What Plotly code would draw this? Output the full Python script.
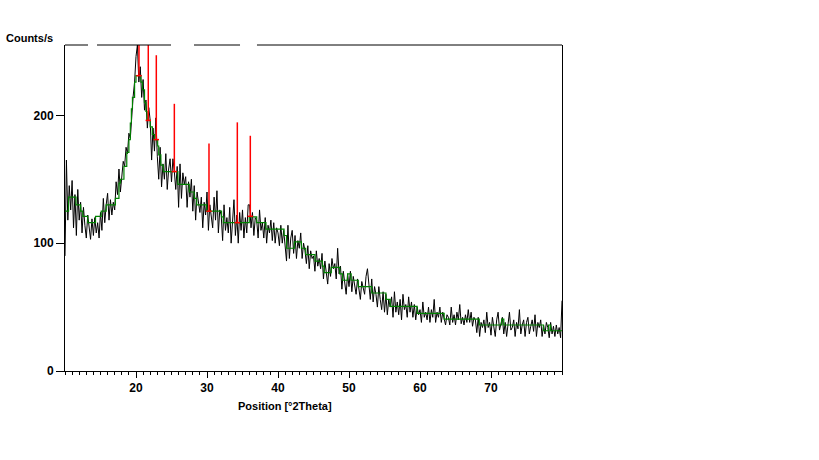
import numpy as np
import plotly.graph_objects as go

# ---- data -------------------------------------------------------------
scan_start = 10.0      # deg 2Theta
scan_step = 0.2        # deg 2Theta
counts = [
    90, 165, 118, 145, 126,
    149, 112, 138, 106, 142,
    118, 132, 108, 128, 114,
    104, 122, 110, 103, 119,
    106, 120, 108, 116, 104,
    124, 110, 135, 116, 130,
    139, 118, 134, 122, 132,
    126, 148, 138, 158, 140,
    152, 164, 160, 175, 170,
    186, 182, 204, 215, 226,
    246, 255, 226, 238, 214,
    228, 204, 212, 190, 206,
    196, 165, 190, 172, 198,
    168, 150, 175, 144, 162,
    150, 170, 142, 158, 166,
    148, 166, 156, 142, 160,
    128, 162, 135, 155, 146,
    152, 128, 148, 136, 150,
    125, 145, 118, 140, 130,
    124, 136, 112, 132, 122,
    140, 110, 130, 118, 112,
    136, 118, 141, 108, 126,
    122, 102, 130, 110, 120,
    108, 128, 100, 120, 134,
    106, 122, 100, 124, 110,
    126, 104, 120, 108, 130,
    130, 112, 124, 106, 120,
    118, 104, 126, 110, 116,
    104, 120, 100, 114, 108,
    118, 102, 116, 100, 112,
    108, 98, 114, 100, 110,
    96, 86, 114, 88, 104,
    110, 92, 106, 88, 102,
    96, 108, 88, 100, 94,
    84, 98, 80, 94, 88,
    90, 78, 94, 82, 88,
    80, 92, 72, 86, 78,
    68, 84, 74, 88, 80,
    84, 72, 96, 76, 82,
    64, 78, 70, 60, 76,
    66, 78, 62, 74, 68,
    60, 72, 64, 56, 70,
    66, 60, 74, 80, 68,
    56, 72, 54, 66, 60,
    50, 66, 56, 48, 62,
    46, 60, 44, 56, 50,
    58, 42, 62, 46, 54,
    44, 56, 40, 60, 48,
    52, 42, 58, 46, 54,
    42, 52, 40, 50, 44,
    48, 38, 54, 42, 46,
    40, 50, 38, 48, 42,
    56, 38, 46, 42, 50,
    38, 46, 40, 36, 44,
    42, 36, 50, 38, 44,
    36, 46, 40, 52, 37,
    42, 36, 44, 38, 48,
    38, 46, 35, 42, 40,
    30, 42, 27, 38, 34,
    40, 30, 46, 34, 38,
    28, 42, 34, 27, 40,
    46, 32, 38, 42, 29,
    38, 27, 36, 46, 32,
    34, 40, 27, 38, 33,
    48, 29, 36, 40, 27,
    38, 42, 29, 35, 40,
    31, 44, 27, 38, 34,
    40, 27, 36, 29, 38,
    34, 26, 38, 29, 35,
    27, 36, 29, 34, 26,
    55,
]

bg_pos = [10.0, 10.5, 11.55, 12.2, 12.5, 13.2, 14.3, 15.1, 15.8, 17.1, 17.6,
          17.8, 18.3, 18.7, 19.0, 19.2, 19.35, 19.5, 19.8, 20.0, 20.7, 20.9,
          21.2, 21.4, 21.55, 22.0, 22.3, 22.6, 23.05, 23.2, 23.5, 23.85, 25.9,
          27.5, 28.2, 28.55, 29.95, 32.05, 32.3, 35.95, 37.0, 38.3, 40.85,
          41.2, 42.3, 43.3, 43.9, 45.2, 46.25, 46.5, 47.5, 48.7, 49.1, 49.8,
          50.3, 51.3, 53.2, 55.2, 55.8, 59.6, 63.4, 68.35, 71.5, 71.8, 77.4,
          78.1, 78.4, 80.0]
bg_val = [125, 136, 130, 125, 121, 116, 121, 125, 130, 135, 147,
          150, 160, 171, 181, 194, 205, 214, 226, 231, 226, 220,
          210, 203, 196, 191, 185, 181, 176, 169, 161, 156, 146,
          140, 135, 130, 125, 120.5, 116, 120.5, 116, 111, 106,
          96, 101, 96, 91, 86, 82, 77, 81, 76, 71, 76,
          71, 66, 61, 56, 50.5, 45, 40.5, 36, 40.5, 36, 31.5,
          36, 31.5, 31.5]

peak_pos = [20.42, 21.73, 22.86, 25.40, 30.28, 34.27, 36.10]
peak_base = [231, 196, 181, 156, 125, 116, 121]
peak_top = [300, 280, 247, 209, 178, 194.5, 184]

top_border_pieces = [(10.0, 13.24), (14.51, 24.93), (28.17, 34.65), (37.04, 80.0)]

# ---- figure -----------------------------------------------------------
two_theta = scan_start + scan_step * np.arange(len(counts))

fig = go.Figure()
fig.add_trace(go.Scatter(x=two_theta, y=counts, mode="lines",
                         line=dict(color="black", width=1), hoverinfo="skip"))
fig.add_trace(go.Scatter(x=bg_pos, y=bg_val, mode="lines", line_shape="hv",
                         line=dict(color="#008000", width=1.2), hoverinfo="skip"))

sx, sy = [], []
half = 0.38
for p, b, t in zip(peak_pos, peak_base, peak_top):
    sx += [p, p, None, p - half, p + half, None]
    sy += [b, t, None, b, b, None]
fig.add_trace(go.Scatter(x=sx, y=sy, mode="lines",
                         line=dict(color="#ff0000", width=1.5), hoverinfo="skip"))

for a, b in top_border_pieces:
    fig.add_shape(type="line", xref="x", yref="paper", x0=a, x1=b, y0=1, y1=1,
                  line=dict(color="black", width=1))

tick_font = dict(family="Liberation Sans, Arial", size=12, color="black", weight="bold")
lbl_font = dict(family="Liberation Sans, Arial", size=11, color="black", weight="bold")

fig.update_xaxes(range=[10, 80], tickmode="array", tickvals=[20, 30, 40, 50, 60, 70],
                 ticks="outside", ticklen=6, tickwidth=1, tickcolor="black",
                 showline=True, linecolor="black", linewidth=1, mirror=False,
                 showgrid=False, zeroline=False, tickfont=tick_font,
                 minor=dict(tickmode="linear", tick0=0, dtick=1, ticks="outside",
                            ticklen=3, tickcolor="black", showgrid=False))
fig.update_yaxes(range=[0, 255], tickmode="array", tickvals=[0, 100, 200],
                 ticks="outside", ticklen=8, tickwidth=1, tickcolor="black",
                 showline=True, linecolor="black", linewidth=1, mirror=True,
                 showgrid=False, zeroline=False, tickfont=tick_font)

fig.add_annotation(text="Counts/s", xref="paper", yref="paper",
                   x=(4 - 65) / 497, y=(371 - 38) / 326, xanchor="left",
                   yanchor="middle", showarrow=False, font=lbl_font)
fig.add_annotation(text="Position [°2Theta]", xref="paper", yref="paper",
                   x=(284.5 - 65) / 497, y=(371 - 406) / 326, xanchor="center",
                   yanchor="middle", showarrow=False, font=lbl_font)

fig.update_layout(width=819, height=460, margin=dict(l=65, r=257, t=45, b=89),
                  paper_bgcolor="white", plot_bgcolor="white", showlegend=False)

fig.write_html("out.html", config={"displayModeBar": False},
               post_script="document.body.style.margin='0';document.body.style.padding='0';")
